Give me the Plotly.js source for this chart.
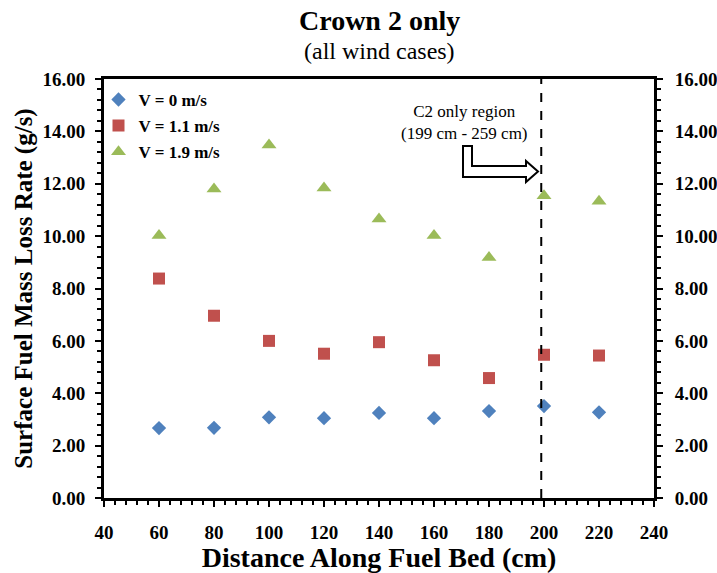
<!DOCTYPE html>
<html><head><meta charset="utf-8">
<script src="https://cdn.plot.ly/plotly-3.0.1.min.js"></script>
<style>body{margin:0;background:#fff}#chart{width:717px;height:573px}</style>
</head><body><div id="chart"></div>
<script>
const distance = [60, 80, 100, 120, 140, 160, 180, 200, 220];
const v0 = [2.67, 2.68, 3.08, 3.05, 3.25, 3.05, 3.32, 3.51, 3.27];
const v11 = [8.38, 6.96, 6.0, 5.51, 5.95, 5.26, 4.58, 5.47, 5.44];
const v19 = [10.02, 11.8, 13.48, 11.84, 10.65, 10.02, 9.18, 11.54, 11.33];
const seriesNames = ['V = 0 m/s', 'V = 1.1 m/s', 'V = 1.9 m/s'];
const regionStart = 199;

const M = {l:104, r:63, t:79, b:75};
const W = 717, H = 573;
const xr = [40, 240], yr = [0, 16];
const pw = W - M.l - M.r, ph = H - M.t - M.b;
const px2x = p => xr[0] + (p - M.l) / pw * (xr[1] - xr[0]);
const py2y = p => yr[0] + (H - M.b - p) / ph * (yr[1] - yr[0]);

const arrowPts = [[463,146],[472,146],[472,166],[526,166],[526,161],[538,171.5],[526,182],[526,177],[463,177]];
const arrowPath = 'M' + arrowPts.map(p => px2x(p[0]).toFixed(3) + ',' + py2y(p[1]).toFixed(3)).join(' L') + ' Z';

const fontFam = '"Liberation Serif", "Times New Roman", serif';
const mk = (y, name, sym, col, size) => ({
  x: distance, y: y, name: name, type: 'scatter', mode: 'markers',
  legendgroup: name,
  marker: {symbol: sym, color: col, size: size}
});
const traces = [
  mk(v0, seriesNames[0], 'diamond', '#4F81BD', 11),
  mk(v11, seriesNames[1], 'square', '#C0504D', 12),
  mk(v19, seriesNames[2], 'triangle-up', '#9BBB59', 13),
  {x: distance, y: v0, yaxis: 'y2', type: 'scatter', mode: 'markers', opacity: 0, showlegend: false, hoverinfo: 'skip'}
];

const yAx = {
  range: yr, tickformat: '.2f', dtick: 2, tick0: 0,
  showgrid: false, zeroline: false,
  showline: true, linecolor: '#000', linewidth: 3,
  ticks: 'outside', ticklen: 6, tickwidth: 2, tickcolor: '#000',
  minor: {dtick: 0.4, ticks: 'outside', ticklen: 4, tickwidth: 2, tickcolor: '#000', showgrid: false},
  tickfont: {family: fontFam, size: 19, color: '#000', weight: 'bold'}
};

const layout = {
  width: W, height: H, margin: M,
  paper_bgcolor: '#fff', plot_bgcolor: '#fff',
  showlegend: true,
  font: {family: fontFam, color: '#000'},
  xaxis: {
    range: xr, dtick: 20, tick0: 40,
    showgrid: false, zeroline: false,
    showline: true, mirror: true, linecolor: '#000', linewidth: 3,
    ticks: 'outside', ticklen: 6, tickwidth: 2, tickcolor: '#000',
    minor: {dtick: 4, ticks: 'outside', ticklen: 4, tickwidth: 2, tickcolor: '#000', showgrid: false},
    ticklabelstandoff: 9,
    tickfont: {family: fontFam, size: 19, color: '#000', weight: 'bold'},
    title: {text: 'Distance Along Fuel Bed (cm)', font: {family: fontFam, size: 28, color: '#000', weight: 'bold'}, standoff: 3}
  },
  yaxis: Object.assign({}, yAx, {
    ticklabelstandoff: 6,
    title: {text: 'Surface Fuel Mass Loss Rate (g/s)', font: {family: fontFam, size: 25, color: '#000', weight: 'bold'}, standoff: 3}
  }),
  yaxis2: Object.assign({}, yAx, {overlaying: 'y', side: 'right', ticklabelstandoff: 8}),
  legend: {
    x: -0.01, y: 0.993, xanchor: 'left', yanchor: 'top',
    bgcolor: 'rgba(0,0,0,0)', tracegroupgap: 1, itemwidth: 30,
    font: {family: fontFam, size: 17, color: '#000', weight: 'bold'}
  },
  shapes: [
    {type: 'line', xref: 'x', yref: 'y', x0: regionStart, x1: regionStart, y0: yr[0], y1: yr[1],
     line: {color: '#000', width: 2, dash: 'dash'}},
    {type: 'path', xref: 'x', yref: 'y', path: arrowPath, fillcolor: '#fff', line: {color: '#000', width: 2}}
  ],
  annotations: [
    {xref: 'paper', yref: 'paper', x: 0.5, y: 1, yshift: 59, yanchor: 'middle', showarrow: false,
     text: '<b>Crown 2 only</b>', font: {family: fontFam, size: 28, color: '#000'}},
    {xref: 'paper', yref: 'paper', x: 0.5, y: 1, yshift: 28, yanchor: 'middle', showarrow: false,
     text: '(all wind cases)', font: {family: fontFam, size: 24, color: '#000'}},
    {xref: 'x', yref: 'y', x: px2x(464), y: py2y(122), showarrow: false,
     text: 'C2 only region<br>(199 cm - 259 cm)', font: {family: fontFam, size: 17, color: '#000'}}
  ]
};

Plotly.newPlot('chart', traces, layout, {displayModeBar: false, staticPlot: true});
</script>
</body></html>
